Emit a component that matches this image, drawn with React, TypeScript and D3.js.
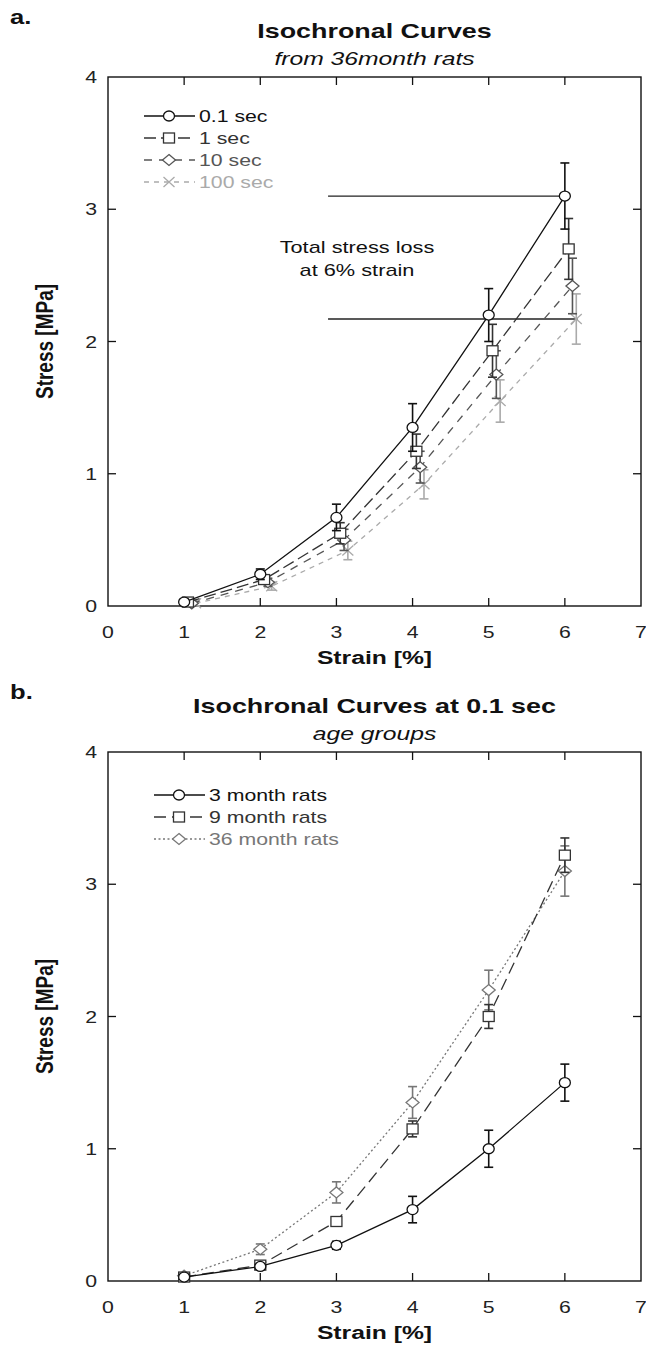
import * as d3 from 'd3';

// strain levels (%)
const strain = [1, 2, 3, 4, 5, 6];

// panel a: isochronal curves from 36 month rats
const timeLabels = ['0.1 sec', '1 sec', '10 sec', '100 sec'];
const timeOffsets = [0, 0.05, 0.1, 0.15];
const stress01 = [0.03, 0.24, 0.67, 1.35, 2.2, 3.1];
const err01 = [0.02, 0.04, 0.1, 0.18, 0.2, 0.25];
const stress1 = [0.03, 0.2, 0.55, 1.17, 1.93, 2.7];
const err1 = [0.02, 0.03, 0.08, 0.13, 0.2, 0.23];
const stress10 = [0.02, 0.18, 0.5, 1.05, 1.75, 2.42];
const err10 = [0.02, 0.03, 0.08, 0.12, 0.18, 0.21];
const stress100 = [0.02, 0.15, 0.42, 0.92, 1.55, 2.17];
const err100 = [0.02, 0.03, 0.07, 0.11, 0.16, 0.19];

// panel b: 0.1 sec by age group
const ageLabels = ['3 month rats', '9 month rats', '36 month rats'];
const stress3m = [0.03, 0.11, 0.27, 0.54, 1.0, 1.5];
const err3m = [0.01, 0.02, 0.03, 0.1, 0.14, 0.14];
const stress9m = [0.03, 0.12, 0.45, 1.15, 2.0, 3.22];
const err9m = [0.01, 0.02, 0.03, 0.06, 0.09, 0.13];
const stress36m = [0.04, 0.24, 0.67, 1.35, 2.2, 3.1];
const err36m = [0.02, 0.04, 0.08, 0.12, 0.15, 0.19];

const xTicks = [0, 1, 2, 3, 4, 5, 6, 7];
const yTicks = [0, 1, 2, 3, 4];

type Series = {
  label: string;
  values: number[];
  errors: number[];
  offset: number;
  color: string;
  textColor: string;
  dash: string | null;
  marker: 'circle' | 'square' | 'diamond' | 'cross';
};

const seriesA: Series[] = [
  { label: timeLabels[0], values: stress01, errors: err01, offset: timeOffsets[0], color: '#111', textColor: '#111', dash: null, marker: 'circle' },
  { label: timeLabels[1], values: stress1, errors: err1, offset: timeOffsets[1], color: '#333', textColor: '#333', dash: '12,5', marker: 'square' },
  { label: timeLabels[2], values: stress10, errors: err10, offset: timeOffsets[2], color: '#555', textColor: '#555', dash: '8,7', marker: 'diamond' },
  { label: timeLabels[3], values: stress100, errors: err100, offset: timeOffsets[3], color: '#aaa', textColor: '#aaa', dash: '5,5', marker: 'cross' },
];

const seriesB: Series[] = [
  { label: ageLabels[0], values: stress3m, errors: err3m, offset: 0, color: '#111', textColor: '#111', dash: null, marker: 'circle' },
  { label: ageLabels[1], values: stress9m, errors: err9m, offset: 0, color: '#333', textColor: '#333', dash: '12,6', marker: 'square' },
  { label: ageLabels[2], values: stress36m, errors: err36m, offset: 0, color: '#777', textColor: '#777', dash: '2,2.5', marker: 'diamond' },
];

const FONT = '"Liberation Sans", Arial, sans-serif';

// the source figure is stretched sideways, so text gets a horizontal scale
function T({
  x,
  y,
  size,
  sx = 1.27,
  anchor = 'start',
  weight,
  italic,
  fill = '#111',
  children,
}: {
  x: number;
  y: number;
  size: number;
  sx?: number;
  anchor?: 'start' | 'middle' | 'end';
  weight?: string;
  italic?: boolean;
  fill?: string;
  children: React.ReactNode;
}) {
  return (
    <text
      transform={`translate(${x},${y}) scale(${sx},1)`}
      textAnchor={anchor}
      fontFamily={FONT}
      fontSize={size}
      fontWeight={weight}
      fontStyle={italic ? 'italic' : undefined}
      fill={fill}
    >
      {children}
    </text>
  );
}

function Marker({ kind, x, y, color }: { kind: Series['marker']; x: number; y: number; color: string }) {
  const common = { stroke: color, strokeWidth: 1.3, fill: 'white' };
  if (kind === 'circle') return <ellipse cx={x} cy={y} rx={5.5} ry={5} {...common} />;
  if (kind === 'square') return <rect x={x - 5.5} y={y - 5} width={11} height={10} {...common} />;
  if (kind === 'diamond') return <path d={`M${x},${y - 5.5}L${x + 6.5},${y}L${x},${y + 5.5}L${x - 6.5},${y}Z`} {...common} />;
  return <path d={`M${x - 5.5},${y - 5}L${x + 5.5},${y + 5}M${x - 5.5},${y + 5}L${x + 5.5},${y - 5}`} stroke={color} strokeWidth={1.3} fill="none" />;
}

function Panel({
  top,
  letter,
  title,
  subtitle,
  series,
  legendX,
  legendY,
  annotate,
}: {
  top: number;
  letter: string;
  title: string;
  subtitle: string;
  series: Series[];
  legendX: number;
  legendY: number;
  annotate?: boolean;
}) {
  const left = 108;
  const right = 641;
  const plotTop = top + 77;
  const plotBottom = top + 606;
  const x = d3.scaleLinear().domain([0, 7]).range([left, right]);
  const y = d3.scaleLinear().domain([0, 4]).range([plotBottom, plotTop]);
  const line = d3.line<[number, number]>().x((d) => x(d[0])).y((d) => y(d[1]));
  const cx = (left + right) / 2;

  return (
    <g>
      <T x={10} y={top + 24} size={21} weight="bold" sx={1.22}>{letter}</T>
      <T x={cx} y={top + 38} size={21} weight="bold" anchor="middle" sx={1.28}>{title}</T>
      <T x={cx} y={top + 65} size={19} italic anchor="middle" sx={1.3}>{subtitle}</T>

      {/* frame */}
      <rect x={left} y={plotTop} width={right - left} height={plotBottom - plotTop} fill="none" stroke="#111" strokeWidth={1.4} />
      {xTicks.slice(1, -1).map((t) => (
        <g key={'xt' + t}>
          <line x1={x(t)} x2={x(t)} y1={plotBottom} y2={plotBottom - 8} stroke="#111" strokeWidth={1.3} />
          <line x1={x(t)} x2={x(t)} y1={plotTop} y2={plotTop + 8} stroke="#111" strokeWidth={1.3} />
        </g>
      ))}
      {yTicks.slice(1, -1).map((t) => (
        <g key={'yt' + t}>
          <line x1={left} x2={left + 8} y1={y(t)} y2={y(t)} stroke="#111" strokeWidth={1.3} />
          <line x1={right} x2={right - 8} y1={y(t)} y2={y(t)} stroke="#111" strokeWidth={1.3} />
        </g>
      ))}
      {xTicks.map((t) => (
        <T key={'xl' + t} x={x(t)} y={plotBottom + 32} size={17} anchor="middle" fill="#222" sx={1.25}>{t}</T>
      ))}
      {yTicks.map((t) => (
        <T key={'yl' + t} x={left - 11} y={y(t) + 6} size={17} anchor="end" fill="#222" sx={1.25}>{t}</T>
      ))}
      <T x={cx} y={plotBottom + 58} size={19} weight="bold" anchor="middle" sx={1.3}>Strain [%]</T>
      <text transform={`translate(53,${(plotTop + plotBottom) / 2}) rotate(-90) scale(1,1.25)`} textAnchor="middle" fontFamily={FONT} fontWeight="bold" fontSize={19} fill="#111">Stress [MPa]</text>

      {annotate && (
        <g>
          <line x1={x(2.89)} x2={x(6.02)} y1={y(stress01[5])} y2={y(stress01[5])} stroke="#222" strokeWidth={1.3} />
          <line x1={x(2.89)} x2={x(6.17)} y1={y(stress100[5])} y2={y(stress100[5])} stroke="#222" strokeWidth={1.3} />
          <T x={357} y={top + 253} size={17} anchor="middle" sx={1.28}>Total stress loss</T>
          <T x={357} y={top + 276} size={17} anchor="middle" sx={1.28}>at 6% strain</T>
        </g>
      )}

      {/* series, drawn back to front */}
      {series.slice().reverse().map((s) => {
        const pts = strain.map((v, i) => [v + s.offset, s.values[i]] as [number, number]);
        return (
          <g key={s.label}>
            <path d={line(pts) ?? ''} fill="none" stroke={s.color} strokeWidth={1.3} strokeDasharray={s.dash ?? undefined} />
            {pts.map((p, i) => {
              const px = x(p[0]);
              const hi = y(p[1] + s.errors[i]);
              const lo = y(p[1] - s.errors[i]);
              return (
                <g key={i}>
                  <line x1={px} x2={px} y1={hi} y2={lo} stroke={s.color} strokeWidth={1.6} />
                  <line x1={px - 4.5} x2={px + 4.5} y1={hi} y2={hi} stroke={s.color} strokeWidth={1.6} />
                  <line x1={px - 4.5} x2={px + 4.5} y1={lo} y2={lo} stroke={s.color} strokeWidth={1.6} />
                  <Marker kind={s.marker} x={px} y={y(p[1])} color={s.color} />
                </g>
              );
            })}
          </g>
        );
      })}

      {/* legend */}
      {series.map((s, i) => {
        const ly = top + legendY + i * 22;
        return (
          <g key={'lg' + s.label}>
            <line x1={legendX} x2={legendX + 51} y1={ly} y2={ly} stroke={s.color} strokeWidth={1.4} strokeDasharray={s.dash ?? undefined} />
            <Marker kind={s.marker} x={legendX + 25} y={ly} color={s.color} />
            <T x={legendX + 55} y={ly + 6} size={17} fill={s.textColor} sx={1.25}>{s.label}</T>
          </g>
        );
      })}
    </g>
  );
}

export default function App() {
  return (
    <svg width={646} height={1348} style={{ position: 'absolute', left: 0, top: 0, background: 'white' }}>
      <Panel top={0} letter="a." title="Isochronal Curves" subtitle="from 36month rats" series={seriesA} legendX={144} legendY={116} annotate />
      <Panel top={675} letter="b." title="Isochronal Curves at 0.1 sec" subtitle="age groups" series={seriesB} legendX={154} legendY={120} />
    </svg>
  );
}
